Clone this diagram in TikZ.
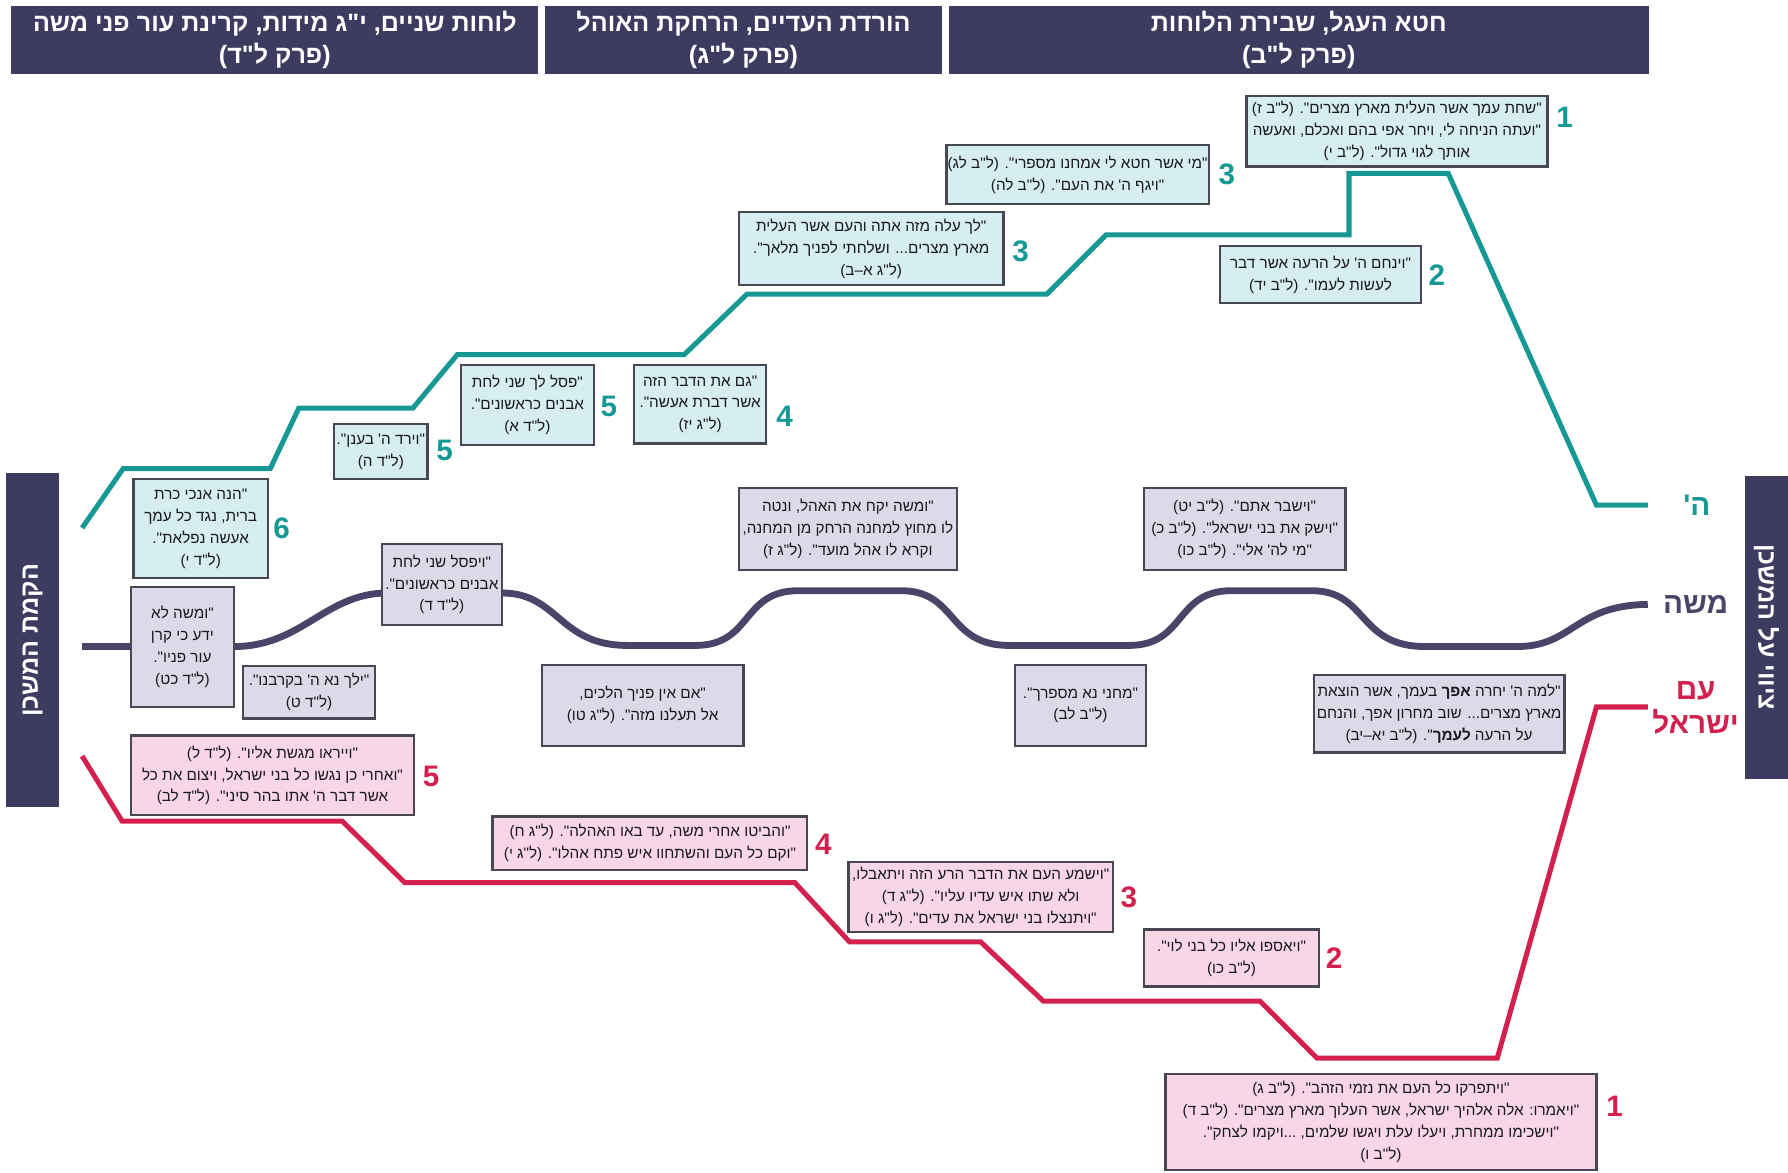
\documentclass[tikz,border=0pt]{standalone}
\usepackage{fontspec}
\setmainfont{Liberation Sans}
\newfontfamily\heb[Script=Hebrew]{Liberation Sans}
\usetikzlibrary{fit}
\TeXXeTstate=1
\newcommand{\hb}[1]{\beginR#1\endR}
\definecolor{hdrc}{RGB}{62,59,96}
\definecolor{tealc}{RGB}{22,152,148}
\definecolor{purc}{RGB}{74,68,104}
\definecolor{redc}{RGB}{212,32,78}
\definecolor{tfill}{RGB}{214,237,242}
\definecolor{pfill}{RGB}{218,218,232}
\definecolor{rfill}{RGB}{248,214,230}
\definecolor{bord}{RGB}{72,72,84}
\definecolor{txtc}{RGB}{25,25,30}
\newcommand{\bfnt}{\heb\fontsize{6.7}{9.6}\selectfont}
\newcommand{\hfnt}{\heb\bfseries\fontsize{11}{13.8}\selectfont}
\newcommand{\sfnt}{\heb\bfseries\fontsize{11}{12}\selectfont}
\newcommand{\nfnt}{\bfseries\fontsize{13}{13}\selectfont}
\newcommand{\lfnt}{\heb\bfseries\fontsize{13}{15}\selectfont}
\begin{document}
\begin{tikzpicture}[x=0.5pt,y=-0.5pt,
  hdr/.style={fill=hdrc, draw=none, inner sep=0pt},
  hdrtxt/.style={text=white, align=center, font=\hfnt, inner sep=0pt},
  sidebar/.style={fill=hdrc, draw=none, inner sep=0pt},
  sidetxt/.style={text=white, font=\sfnt, inner sep=0pt},
  tbox/.style={fill=tfill, draw=bord, line width=1pt, inner sep=0pt},
  pbox/.style={fill=pfill, draw=bord, line width=1pt, inner sep=0pt},
  rbox/.style={fill=rfill, draw=bord, line width=1pt, inner sep=0pt},
  btxt/.style={align=center, font=\bfnt, text=txtc, inner sep=0pt},
  tnum/.style={text=tealc, font=\nfnt, inner sep=0pt},
  rnum/.style={text=redc, font=\nfnt, inner sep=0pt},
  tline/.style={draw=tealc, line width=2.2pt},
  mline/.style={draw=purc, line width=3pt},
  rline/.style={draw=redc, line width=2.2pt},
  lbl/.style={font=\lfnt, inner sep=0pt, align=center}
]
\useasboundingbox (0,0) rectangle (1568,1028);

% headers
\node[hdr, fit={(10,5) (472,65)}] (h3) {};
\node[hdrtxt] (h3x) at (h3.center) {\hb{לוחות שניים, י"ג מידות, קרינת עור פני משה}\\\hb{(פרק ל"ד)}};
\node[hdr, fit={(478,5) (826,65)}] (h2) {};
\node[hdrtxt] (h2x) at (h2.center) {\hb{הורדת העדיים, הרחקת האוהל}\\\hb{(פרק ל"ג)}};
\node[hdr, fit={(832,5) (1446,65)}] (h1) {};
\node[hdrtxt] (h1x) at (h1.center) {\hb{חטא העגל, שבירת הלוחות}\\\hb{(פרק ל"ב)}};

% side bars
\node[sidebar, fit={(5,415) (52,708)}] (lside) {};
\node[sidetxt, rotate=90] (lsidet) at (lside.center) {\hb{הקמת המשכן}};
\node[sidebar, fit={(1530,417) (1568,683)}] (rside) {};
\node[sidetxt, rotate=-90] (rsidet) at (rside.center) {\hb{ציווי על המשכן}};

% lines
\coordinate (tstart) at (72,463);
\coordinate (tend) at (1445,443);
\draw[tline] (tstart) -- (108,411) -- (237,411) -- (262,358) -- (362,358) -- (401,311) -- (600,311) -- (655,258) -- (918,258) -- (970,206) -- (1183,206) -- (1183,152) -- (1270,152) -- (1400,443) -- (tend);

\coordinate (mstart) at (72,567);
\coordinate (mend) at (1445,530);
\draw[mline] (mstart) -- (205,567) .. controls (265,567) and (285,520) .. (340,520) -- (440,520) .. controls (490,520) and (490,566) .. (550,566) -- (610,566) .. controls (660,566) and (650,518) .. (700,518) -- (790,518) .. controls (840,518) and (830,566) .. (885,566) -- (990,566) .. controls (1040,566) and (1030,518) .. (1080,518) -- (1150,518) .. controls (1200,518) and (1190,567) .. (1250,567) -- (1330,567) .. controls (1380,567) and (1380,531) .. (mend);

\coordinate (rstart) at (72,663);
\coordinate (rend) at (1445,620);
\draw[rline] (rstart) -- (107,720) -- (300,720) -- (355,774) -- (697,774) -- (745,826) -- (860,826) -- (915,878) -- (1105,878) -- (1155,928) -- (1313,928) -- (1400,620) -- (rend);

% right labels
\node[lbl, text=tealc] (lh) at (1488,443) {\hb{ה'}};
\node[lbl, text=purc] (lm) at (1487,530) {\hb{משה}};
\node[lbl, text=redc] (lr) at (1487,621) {\hb{עם}\\\hb{ישראל}};

% teal boxes
\node[tbox, fit={(1093,84) (1357,146)}] (t1) {};
\node[btxt] (t1x) at (t1.center) {\hb{"שחת עמך אשר העלית מארץ מצרים". (ל"ב ז)}\\\hb{"ועתה הניחה לי, ויחר אפי בהם ואכלם, ואעשה}\\\hb{אותך לגוי גדול". (ל"ב י)}};
\node[tnum] (nt1) at (1372,103) {1};
\node[tbox, fit={(1070,216) (1246,266)}] (t2) {};
\node[btxt] (t2x) at (t2.center) {\hb{"וינחם ה' על הרעה אשר דבר}\\\hb{לעשות לעמו". (ל"ב יד)}};
\node[tnum] (nt2) at (1260,241) {2};
\node[tbox, fit={(830,127) (1060,179)}] (t3a) {};
\node[btxt] (t3ax) at (t3a.center) {\hb{"מי אשר חטא לי אמחנו מספרי". (ל"ב לג)}\\\hb{"ויגף ה' את העם". (ל"ב לה)}};
\node[tnum] (nt3a) at (1076,153) {3};
\node[tbox, fit={(648,186) (880,250)}] (t3b) {};
\node[btxt] (t3bx) at (t3b.center) {\hb{"לך עלה מזה אתה והעם אשר העלית}\\\hb{מארץ מצרים... ושלחתי לפניך מלאך".}\\\hb{(ל"ג א–ב)}};
\node[tnum] (nt3b) at (895,220) {3};
\node[tbox, fit={(556,320) (672,389)}] (t4) {};
\node[btxt] (t4x) at (t4.center) {\hb{"גם את הדבר הזה}\\\hb{אשר דברת אעשה".}\\\hb{(ל"ג יז)}};
\node[tnum] (nt4) at (688,365) {4};
\node[tbox, fit={(404,320) (521,390)}] (t5a) {};
\node[btxt] (t5ax) at (t5a.center) {\hb{"פסל לך שני לחת}\\\hb{אבנים כראשונים".}\\\hb{(ל"ד א)}};
\node[tnum] (nt5a) at (534,356) {5};
\node[tbox, fit={(293,372) (375,420)}] (t5b) {};
\node[btxt] (t5bx) at (t5b.center) {\hb{"וירד ה' בענן".}\\\hb{(ל"ד ה)}};
\node[tnum] (nt5b) at (390,395) {5};
\node[tbox, fit={(117,420) (235,507)}] (t6) {};
\node[btxt] (t6x) at (t6.center) {\hb{"הנה אנכי כרת}\\\hb{ברית, נגד כל עמך}\\\hb{אעשה נפלאת".}\\\hb{(ל"ד י)}};
\node[tnum] (nt6) at (247,463) {6};

% purple boxes
\node[pbox, fit={(115,515) (205,620)}] (p1) {};
\node[btxt] (p1x) at (p1.center) {\hb{"ומשה לא}\\\hb{ידע כי קרן}\\\hb{עור פניו".}\\\hb{(ל"ד כט)}};
\node[pbox, fit={(213,584) (329,630)}] (p2) {};
\node[btxt] (p2x) at (p2.center) {\hb{"ילך נא ה' בקרבנו".}\\\hb{(ל"ד ט)}};
\node[pbox, fit={(335,477) (440,548)}] (p3) {};
\node[btxt] (p3x) at (p3.center) {\hb{"ויפסל שני לחת}\\\hb{אבנים כראשונים".}\\\hb{(ל"ד ד)}};
\node[pbox, fit={(475,583) (652,654)}] (p4) {};
\node[btxt] (p4x) at (p4.center) {\hb{"אם אין פניך הלכים,}\\\hb{אל תעלנו מזה". (ל"ג טו)}};
\node[pbox, fit={(648,428) (839,500)}] (p5) {};
\node[btxt] (p5x) at (p5.center) {\hb{"ומשה יקח את האהל, ונטה}\\\hb{לו מחוץ למחנה הרחק מן המחנה,}\\\hb{וקרא לו אהל מועד". (ל"ג ז)}};
\node[pbox, fit={(890,583) (1005,654)}] (p6) {};
\node[btxt] (p6x) at (p6.center) {\hb{"מחני נא מספרך".}\\\hb{(ל"ב לב)}};
\node[pbox, fit={(1003,428) (1180,500)}] (p7) {};
\node[btxt] (p7x) at (p7.center) {\hb{"וישבר אתם". (ל"ב יט)}\\\hb{"וישק את בני ישראל". (ל"ב כ)}\\\hb{"מי לה' אלי". (ל"ב כו)}};
\node[pbox, fit={(1152,592) (1372,660)}] (p8) {};
\node[btxt] (p8x) at (p8.center) {\hb{"למה ה' יחרה {\bfseries אפך} בעמך, אשר הוצאת}\\\hb{מארץ מצרים... שוב מחרון אפך, והנחם}\\\hb{על הרעה {\bfseries לעמך}". (ל"ב יא–יב)}};

% red boxes
\node[rbox, fit={(115,645) (363,715)}] (r5) {};
\node[btxt] (r5x) at (r5.center) {\hb{"וייראו מגשת אליו". (ל"ד ל)}\\\hb{"ואחרי כן נגשו כל בני ישראל, ויצום את כל}\\\hb{אשר דבר ה' אתו בהר סיני". (ל"ד לב)}};
\node[rnum] (nr5) at (378,681) {5};
\node[rbox, fit={(432,716) (708,763)}] (r4) {};
\node[btxt] (r4x) at (r4.center) {\hb{"והביטו אחרי משה, עד באו האהלה". (ל"ג ח)}\\\hb{"וקם כל העם והשתחוו איש פתח אהלו". (ל"ג י)}};
\node[rnum] (nr4) at (722,740) {4};
\node[rbox, fit={(744,756) (976,817)}] (r3) {};
\node[btxt] (r3x) at (r3.center) {\hb{"וישמע העם את הדבר הרע הזה ויתאבלו,}\\\hb{ולא שתו איש עדיו עליו". (ל"ג ד)}\\\hb{"ויתנצלו בני ישראל את עדים". (ל"ג ו)}};
\node[rnum] (nr3) at (990,787) {3};
\node[rbox, fit={(1003,815) (1157,865)}] (r2) {};
\node[btxt] (r2x) at (r2.center) {\hb{"ויאספו אליו כל בני לוי".}\\\hb{(ל"ב כו)}};
\node[rnum] (nr2) at (1170,840) {2};
\node[rbox, fit={(1022,942) (1400,1026)}] (r1) {};
\node[btxt] (r1x) at (r1.center) {\hb{"ויתפרקו כל העם את נזמי הזהב". (ל"ב ג)}\\\hb{"ויאמרו: אלה אלהיך ישראל, אשר העלוך מארץ מצרים". (ל"ב ד)}\\\hb{"וישכימו ממחרת, ויעלו עלת ויגשו שלמים, ...ויקמו לצחק".}\\\hb{(ל"ב ו)}};
\node[rnum] (nr1) at (1416,970) {1};
\end{tikzpicture}
\end{document}
